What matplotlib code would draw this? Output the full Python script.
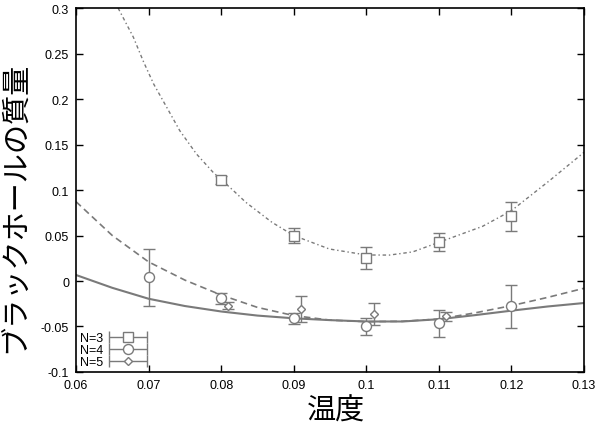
import matplotlib
matplotlib.use('Agg')
import matplotlib.pyplot as plt
from matplotlib.container import ErrorbarContainer
from matplotlib.legend_handler import HandlerErrorbar

plt.rcParams['font.family'] = ['Liberation Sans', 'DejaVu Sans']

# data points (temperature, mass, error)
x3 = [0.08, 0.09, 0.10, 0.11, 0.12]
y3 = [0.111, 0.050, 0.025, 0.043, 0.071]
e3 = [0.004, 0.008, 0.012, 0.010, 0.016]

x4 = [0.07, 0.08, 0.09, 0.10, 0.11, 0.12]
y4 = [0.004, -0.019, -0.041, -0.050, -0.0465, -0.028]
e4 = [0.031, 0.006, 0.006, 0.009, 0.0145, 0.0236]

x5 = [0.081, 0.091, 0.101, 0.111]
y5 = [-0.027, -0.031, -0.036, -0.039]
e5 = [0.004, 0.014, 0.012, 0.005]

# fitted curves
cx3 = [0.0658, 0.0679, 0.0693, 0.0707, 0.0725, 0.0743, 0.0766, 0.0789, 0.0816,
       0.0834, 0.087, 0.09, 0.0949, 0.1, 0.1032, 0.1064, 0.11, 0.116, 0.12, 0.1252, 0.13]
cy3 = [0.300, 0.268, 0.241, 0.2165, 0.1909, 0.1652, 0.1396, 0.1194, 0.100,
       0.0865, 0.0645, 0.050, 0.0352, 0.0286, 0.0285, 0.032, 0.0425, 0.060, 0.0773, 0.110, 0.1414]

cx4 = [0.06, 0.065, 0.07, 0.075, 0.08, 0.085, 0.09, 0.095, 0.1, 0.105, 0.11, 0.115, 0.12, 0.125, 0.13]
cy4 = [0.0872, 0.050, 0.021, 0.001, -0.0154, -0.029, -0.038, -0.043, -0.0447, -0.0443, -0.0418, -0.035, -0.0271, -0.018, -0.008]

cx5 = [0.06, 0.065, 0.07, 0.075, 0.08, 0.085, 0.09, 0.095, 0.1, 0.105, 0.11, 0.115, 0.12, 0.125, 0.13]
cy5 = [0.0066, -0.0075, -0.0195, -0.0275, -0.0335, -0.038, -0.041, -0.043, -0.0445, -0.0445, -0.042, -0.0375, -0.0326, -0.028, -0.0242]

labels = ['N=3', 'N=4', 'N=5']
xticks = [0.06, 0.07, 0.08, 0.09, 0.1, 0.11, 0.12, 0.13]
yticks = [-0.1, -0.05, 0, 0.05, 0.1, 0.15, 0.2, 0.25, 0.3]

fig = plt.figure(figsize=(6, 4.31), dpi=100)
ax = fig.add_axes([0.1267, 0.1346, 0.8466, 0.8444])

gray = '#7a7a7a'
ax.plot(cx3, cy3, color=gray, lw=1.0, ls=(0, (2.5, 2, 1, 2)))
ax.plot(cx4, cy4, color=gray, lw=1.2, ls=(0, (4, 2.5)))
ax.plot(cx5, cy5, color=gray, lw=1.5, ls='-')

kw = dict(ls='none', color=gray, ecolor=gray, elinewidth=1, capsize=4,
          capthick=1, mfc='white', mec=gray, mew=1)
ax.errorbar(x3, y3, yerr=e3, marker='s', ms=6.7, **kw)
ax.errorbar(x4, y4, yerr=e4, marker='o', ms=7.2, **kw)
ax.errorbar(x5, y5, yerr=e5, marker='D', ms=4.2, **kw)

# legend proxies with horizontal bars like gnuplot
nan = float('nan')
h3 = ax.errorbar([nan], [nan], xerr=[1], marker='s', ms=6.7, **kw)
h4 = ax.errorbar([nan], [nan], xerr=[1], marker='o', ms=7.2, **kw)
h5 = ax.errorbar([nan], [nan], xerr=[1], marker='D', ms=4.2, **kw)
ax.legend([h3, h4, h5], labels, loc='lower left', frameon=False,
          markerfirst=False, handlelength=3.2, handleheight=0.6, fontsize=9,
          labelspacing=0.0, handletextpad=0.4, borderaxespad=0.1, borderpad=0.2,
          handler_map={ErrorbarContainer: HandlerErrorbar(xerr_size=1.5)})

ax.set_xlim(0.06, 0.13)
ax.set_ylim(-0.1, 0.3)
ax.set_xticks(xticks)
ax.set_xticklabels(['0.06', '0.07', '0.08', '0.09', '0.1', '0.11', '0.12', '0.13'])
ax.set_yticks(yticks)
ax.set_yticklabels(['-0.1', '-0.05', '0', '0.05', '0.1', '0.15', '0.2', '0.25', '0.3'])
ax.tick_params(direction='in', length=5, width=1, top=True, right=True,
               labelsize=9, pad=5)
for s in ax.spines.values():
    s.set_linewidth(1.2)

ax.set_xlabel('温度', family=['Noto Sans CJK JP', 'DejaVu Sans'], fontsize=21)
ax.xaxis.set_label_coords(0.512, -0.066)
ax.set_ylabel('ブラックホールの質量', family=['Noto Sans CJK JP', 'DejaVu Sans'],
              fontsize=21)
ax.yaxis.set_label_coords(-0.09, 0.456)

plt.savefig('out.png', dpi=100)
